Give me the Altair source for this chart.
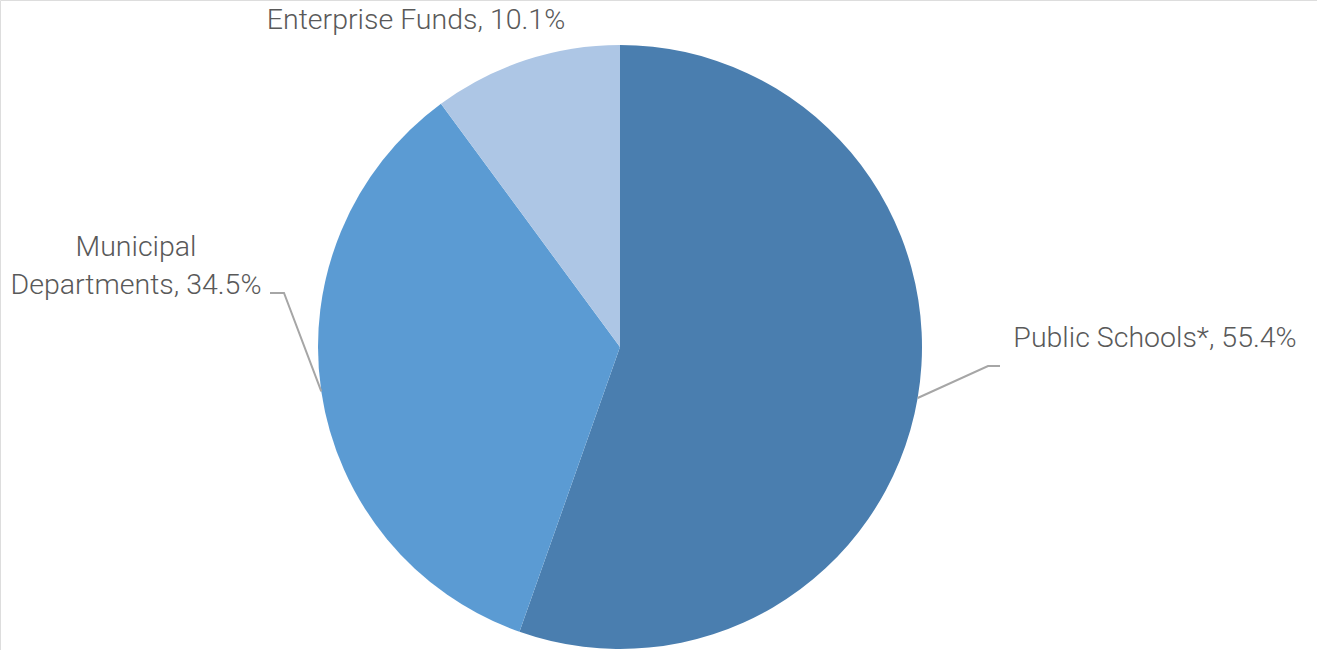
import math
import altair as alt
import pandas as pd

categories = ["Public Schools*", "Municipal Departments", "Enterprise Funds"]
values = [55.4, 34.5, 10.1]
colors = ["#4a7eaf", "#5b9bd3", "#adc6e5"]

# layout constants (pixels)
CX, CY, R = 620, 347, 302
W, H = 1317, 650

pie_df = pd.DataFrame({"category": categories, "value": values, "order": [0, 1, 2]})

# leader lines from slice mid-angle on the rim to an elbow
elbows = {
    "Public Schools*": [(988, 366), (1000, 366)],
    "Municipal Departments": [(284, 293), (270, 293)],
}
rows = []
cum = 0.0
total = sum(values)
for cat, v in zip(categories, values):
    mid = (cum + v / 2) / total * 2 * math.pi
    cum += v
    if cat in elbows:
        ex = CX + R * math.sin(mid)
        ey = CY - R * math.cos(mid)
        pts = [(ex, ey)] + elbows[cat]
        for i, (px, py) in enumerate(pts):
            rows.append({"category": cat, "i": i, "px": px, "py": py})
line_df = pd.DataFrame(rows)

label_rows = [
    {"t": f"{categories[0]}, {values[0]}%", "px": 1155, "py": 338},
    {"t": "Municipal", "px": 136, "py": 247},
    {"t": f"Departments, {values[1]}%", "px": 136, "py": 285},
    {"t": f"{categories[2]}, {values[2]}%", "px": 416, "py": 20},
]
label_df = pd.DataFrame(label_rows)

arc = alt.Chart(pie_df).mark_arc(outerRadius=R, stroke=None).encode(
    theta=alt.Theta("value:Q", stack=True),
    color=alt.Color("category:N", scale=alt.Scale(domain=categories, range=colors), legend=None),
    order=alt.Order("order:Q"),
    x=alt.value(CX),
    y=alt.value(CY),
)

lines = alt.Chart(line_df).mark_line(color="#a6a6a6", strokeWidth=2).encode(
    x=alt.X("px:Q", scale=None),
    y=alt.Y("py:Q", scale=None),
    detail="category:N",
    order="i:Q",
)

text = alt.Chart(label_df).mark_text(
    align="center", baseline="middle", font="Roboto", fontWeight=300, fontSize=28.5, color="#595959"
).encode(
    x=alt.X("px:Q", scale=None),
    y=alt.Y("py:Q", scale=None),
    text="t:N",
)

chart = alt.layer(arc, lines, text).properties(
    width=W, height=H, autosize=alt.AutoSizeParams(type="none"), padding=0
).configure_view(stroke=None).configure(background="white")

chart.save("out.html", embed_options={"renderer": "svg", "actions": False})
